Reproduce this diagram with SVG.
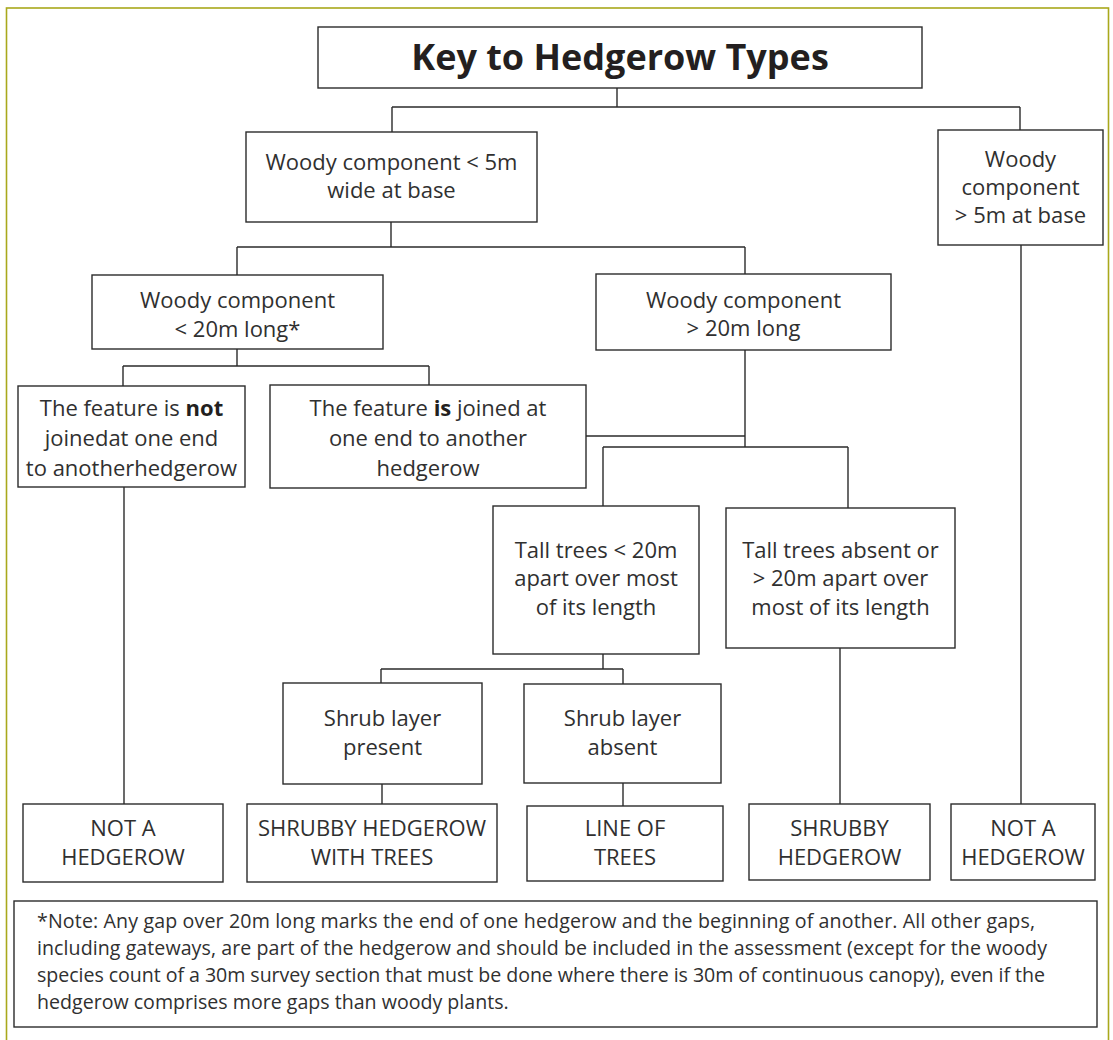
<svg xmlns="http://www.w3.org/2000/svg" width="1113" height="1040" viewBox="0 0 1113 1040">
  <style>
    .frame { fill: none; stroke: #a9a81c; stroke-width: 1.6; }
    .box { fill: #ffffff; stroke: #2b2b2b; stroke-width: 1.4; }
    .lbl { font-family: "Open Sans", "Noto Sans", "Liberation Sans", sans-serif; font-size: 22px; fill: #303030; text-anchor: middle; }
    .title { font-family: "Open Sans", "Noto Sans", "Liberation Sans", sans-serif; font-size: 36px; font-weight: bold; fill: #231f20; text-anchor: middle; }
    .note { font-family: "Open Sans", "Noto Sans", "Liberation Sans", sans-serif; font-size: 19.6px; fill: #303030; }
    .conn { fill: none; stroke: #2b2b2b; stroke-width: 1.4; }
    .b { font-weight: bold; fill: #231f20; }
  </style>
  <rect class="frame" x="6.5" y="8" width="1102" height="1060"/>

  <g id="connectors">
    <path class="conn" d="M617,88 V107 M392,107 H1020 M392,107 V132 M1020,107 V130"/>
    <path class="conn" d="M391,222 V247 M237,247 H745 M237,247 V275 M745,247 V274"/>
    <path class="conn" d="M237,349 V366 M123,366 H429 M123,366 V386 M429,366 V385"/>
    <path class="conn" d="M124,487 V804"/>
    <path class="conn" d="M586,436 H745 M745,350 V447 M603,447 H848 M603,447 V506 M848,447 V508"/>
    <path class="conn" d="M603,654 V669 M381,669 H623 M381,669 V683 M623,669 V684"/>
    <path class="conn" d="M382,784 V804"/>
    <path class="conn" d="M623,783 V806"/>
    <path class="conn" d="M840,648 V804"/>
    <path class="conn" d="M1021,245 V804"/>
  </g>

  <g id="title">
    <rect class="box" x="318" y="27" width="604" height="61"/>
    <text class="title" x="620" y="70">Key to Hedgerow Types</text>
  </g>

  <g id="n-woody-lt5">
    <rect class="box" x="246" y="132" width="291" height="90"/>
    <text class="lbl" x="391.5" y="170">Woody component &lt; 5m</text>
    <text class="lbl" x="391.5" y="198">wide at base</text>
  </g>

  <g id="n-woody-gt5">
    <rect class="box" x="938" y="130" width="165" height="115"/>
    <text class="lbl" x="1020.5" y="167">Woody</text>
    <text class="lbl" x="1020.5" y="195">component</text>
    <text class="lbl" x="1020.5" y="223">&gt; 5m at base</text>
  </g>

  <g id="n-lt20">
    <rect class="box" x="92" y="275" width="291" height="74"/>
    <text class="lbl" x="237.5" y="308">Woody component</text>
    <text class="lbl" x="237.5" y="337">&lt; 20m long*</text>
  </g>

  <g id="n-gt20">
    <rect class="box" x="596" y="274" width="295" height="76"/>
    <text class="lbl" x="743.5" y="308">Woody component</text>
    <text class="lbl" x="743.5" y="336">&gt; 20m long</text>
  </g>

  <g id="n-not-joined">
    <rect class="box" x="18" y="386" width="227" height="101"/>
    <text class="lbl" x="131.5" y="416">The feature is <tspan class="b">not</tspan></text>
    <text class="lbl" x="131.5" y="446">joinedat one end</text>
    <text class="lbl" x="131.5" y="476">to anotherhedgerow</text>
  </g>

  <g id="n-joined">
    <rect class="box" x="270" y="385" width="316" height="103"/>
    <text class="lbl" x="428" y="416">The feature <tspan class="b">is</tspan> joined at</text>
    <text class="lbl" x="428" y="446">one end to another</text>
    <text class="lbl" x="428" y="476">hedgerow</text>
  </g>

  <g id="n-tall-lt20">
    <rect class="box" x="493" y="506" width="206" height="148"/>
    <text class="lbl" x="596" y="558">Tall trees &lt; 20m</text>
    <text class="lbl" x="596" y="586">apart over most</text>
    <text class="lbl" x="596" y="615">of its length</text>
  </g>

  <g id="n-tall-absent">
    <rect class="box" x="726" y="508" width="229" height="140"/>
    <text class="lbl" x="840.5" y="558">Tall trees absent or</text>
    <text class="lbl" x="840.5" y="586">&gt; 20m apart over</text>
    <text class="lbl" x="840.5" y="615">most of its length</text>
  </g>

  <g id="n-shrub-present">
    <rect class="box" x="283" y="683" width="199" height="101"/>
    <text class="lbl" x="382.5" y="726">Shrub layer</text>
    <text class="lbl" x="382.5" y="755">present</text>
  </g>

  <g id="n-shrub-absent">
    <rect class="box" x="524" y="684" width="197" height="99"/>
    <text class="lbl" x="622.5" y="726">Shrub layer</text>
    <text class="lbl" x="622.5" y="755">absent</text>
  </g>

  <g id="r-not-hedgerow-1">
    <rect class="box" x="23" y="804" width="200" height="78"/>
    <text class="lbl" x="123" y="836">NOT A</text>
    <text class="lbl" x="123" y="865">HEDGEROW</text>
  </g>

  <g id="r-shrubby-trees">
    <rect class="box" x="247" y="804" width="250" height="78"/>
    <text class="lbl" x="372" y="836">SHRUBBY HEDGEROW</text>
    <text class="lbl" x="372" y="865">WITH TREES</text>
  </g>

  <g id="r-line-trees">
    <rect class="box" x="527" y="806" width="196" height="75"/>
    <text class="lbl" x="625" y="836">LINE OF</text>
    <text class="lbl" x="625" y="865">TREES</text>
  </g>

  <g id="r-shrubby">
    <rect class="box" x="749" y="804" width="181" height="76"/>
    <text class="lbl" x="839.5" y="836">SHRUBBY</text>
    <text class="lbl" x="839.5" y="865">HEDGEROW</text>
  </g>

  <g id="r-not-hedgerow-2">
    <rect class="box" x="951" y="804" width="144" height="76"/>
    <text class="lbl" x="1023" y="836">NOT A</text>
    <text class="lbl" x="1023" y="865">HEDGEROW</text>
  </g>

  <g id="note">
    <rect class="box" x="14" y="901" width="1083" height="126"/>
    <text class="note" x="37" y="928" textLength="998" lengthAdjust="spacing">*Note: Any gap over 20m long marks the end of one hedgerow and the beginning of another. All other gaps,</text>
    <text class="note" x="37" y="955" textLength="1010" lengthAdjust="spacing">including gateways, are part of the hedgerow and should be included in the assessment (except for the woody</text>
    <text class="note" x="37" y="982" textLength="1008" lengthAdjust="spacing">species count of a 30m survey section that must be done where there is 30m of continuous canopy), even if the</text>
    <text class="note" x="37" y="1009">hedgerow comprises more gaps than woody plants.</text>
  </g>
</svg>
